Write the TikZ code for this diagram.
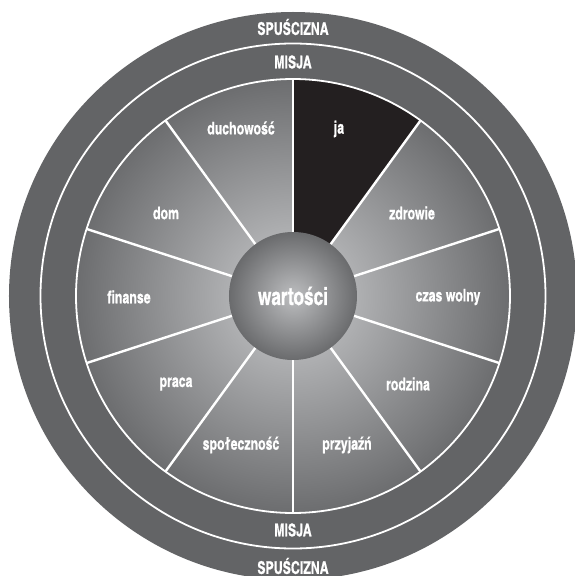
\documentclass[tikz,border=0pt]{standalone}
\usepackage{fontspec}
\setmainfont{texgyreheroscn}[Extension=.otf, UprightFont=*-regular, BoldFont=*-bold,
  BoldFeatures={FakeStretch=0.86, FakeBold=0.6}]
\usepackage{tikz}
\definecolor{ring}{HTML}{636466}
\definecolor{jafill}{HTML}{231F20}
\definecolor{wheelin}{HTML}{CACBCD}
\definecolor{wheelout}{HTML}{6C6D6F}
\definecolor{ballin}{HTML}{BDBEC0}
\definecolor{ballout}{HTML}{6A6B6D}

\tikzset{
  label/.style={text=white, font=\fontsize{17.5}{17.5}\selectfont\bfseries, inner sep=0pt},
  divider/.style={white, line width=2.4pt},
  rim/.style={white, line width=1.8pt}
}

\begin{document}
\begin{tikzpicture}[x=1pt, y=1pt]
  \useasboundingbox (-293,-280) rectangle (282,296);
  % Pierścienie
  \fill[ring] (0,0) circle (284);
  \draw[rim] (0,0) circle (252.5);
  % Koło
  \shade[inner color=wheelin, outer color=wheelout] (0,0) circle (217);
  \fill[jafill] (0,0) -- (90:217) arc (90:54:217) -- cycle;
  \draw[rim] (0,0) circle (217);
  \foreach \a in {90,54,...,-234} {
    \draw[divider] (\a:60) -- (\a:217);
  }
  % Środek
  \node[circle, minimum size=128, inner sep=0pt, shade, inner color=ballin, outer color=ballout,
    text=white, font=\fontsize{24.5}{24.5}\selectfont\bfseries] (wartosci) at (0,0) {wartości};
  % Sektory
  \node[label] (ja) at (46,167) {ja};
  \node[label] (zdrowie) at (119,83) {zdrowie};
  \node[label] (czas) at (155,-1) {czas wolny};
  \node[label] (rodzina) at (115,-88) {rodzina};
  \node[label] (przyjazn) at (54,-149) {przyjaźń};
  \node[label] (spolecznosc) at (-52,-149) {społeczność};
  \node[label] (praca) at (-117,-88) {praca};
  \node[label] (finanse) at (-164,-1) {finanse};
  \node[label] (dom) at (-127,83) {dom};
  \node[label] (duchowosc) at (-52,168) {duchowość};
  % Napisy na pierścieniach
  \node[label] (misja-g) at (0,234) {MISJA};
  \node[label] (misja-d) at (0,-234) {MISJA};
  \node[label] (spuscizna-g) at (0,269) {SPUŚCIZNA};
  \node[label] (spuscizna-d) at (0,-270) {SPUŚCIZNA};
\end{tikzpicture}
\end{document}
